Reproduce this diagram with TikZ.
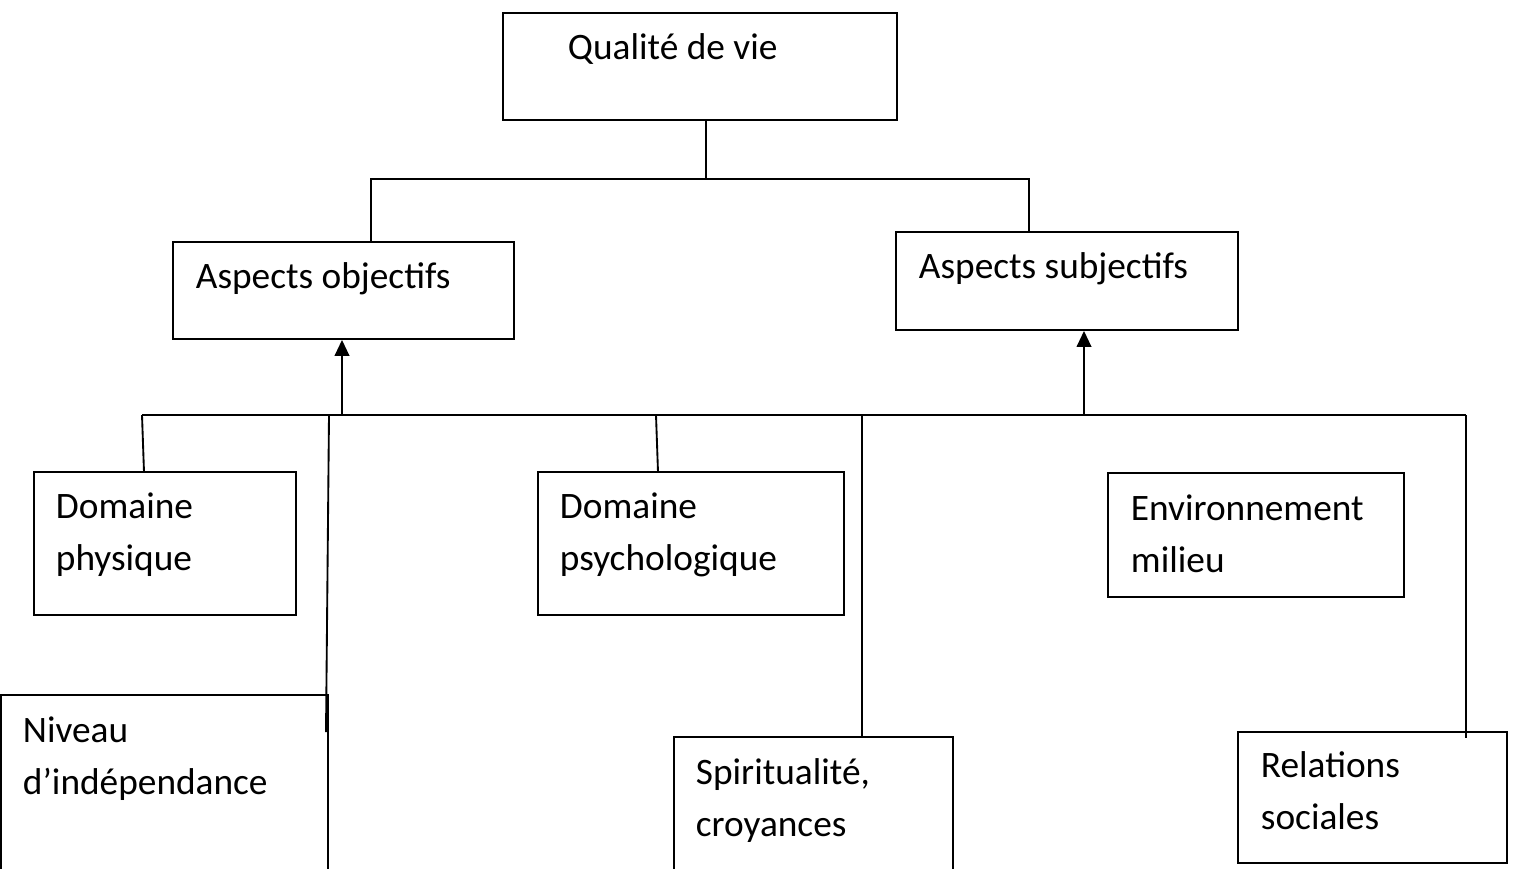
\documentclass[tikz,border=0pt]{standalone}
\usepackage{fontspec}
\setmainfont{Carlito}
\usetikzlibrary{arrows.meta,fit}
\begin{document}
\begin{tikzpicture}[x=0.75pt,y=-0.75pt,
  line width=1.4pt,
  box/.style={draw=black, line width=1.4pt, rectangle, inner sep=0pt},
  txt/.style={anchor=base west, inner sep=0pt, align=left,
    font=\fontsize{28pt}{39pt}\selectfont},
  uparrow/.style={-{Triangle[length=12pt,width=11pt]}}]
\useasboundingbox (0,0) rectangle (1513,868);
\clip (0,0) rectangle (1513,868);
% boxes
\node[box, fit={(503,13)(897,120)}] (qual) {};
\node[box, fit={(173,242)(514,339)}] (obj) {};
\node[box, fit={(896,232)(1238,330)}] (subj) {};
\node[box, fit={(34,472)(296,615)}] (phys) {};
\node[box, fit={(538,472)(844,615)}] (psy) {};
\node[box, fit={(1108,473)(1404,597)}] (env) {};
\node[box, fit={(1,695)(328,920)}] (niv) {};
\node[box, fit={(674,737)(953,920)}] (spi) {};
\node[box, fit={(1238,732)(1507,863)}] (rel) {};
% texts (multi-line nodes are anchored on the baseline of their last line)
\node[txt] (tqual) at (567,59) {Qualité de vie};
\node[txt] (tobj) at (195,288) {Aspects objectifs};
\node[txt] (tsubj) at (918,278) {Aspects subjectifs};
\node[txt] (tphys) at (55,570) {Domaine\\physique};
\node[txt] (tpsy) at (559,570) {Domaine\\psychologique};
\node[txt] (tenv) at (1130,572) {Environnement\\milieu};
\node[txt] (tniv) at (22,794) {Niveau\\d’indépendance};
\node[txt] (tspi) at (695,836) {Spiritualité,\\croyances};
\node[txt] (trel) at (1260,829) {Relations\\sociales};
% top connectors
\coordinate (tj) at (706,179);
\coordinate (tjL) at (371,179);
\coordinate (tjR) at (1029,179);
\draw (tj |- qual.south) -- (tj);
\draw (tjL |- obj.north) -- (tjL) -- (tjR) -- (tjR |- subj.north);
% bus
\coordinate (busL) at (142,415);
\coordinate (busR) at (1466,415);
\draw (busL) -- (busR);
\coordinate (a1) at (342,415);
\coordinate (a2) at (1084,415);
\draw[uparrow] (a1) -- (a1 |- obj.south);
\draw[uparrow] (a2) -- (a2 |- subj.south);
% drops
\coordinate (d1e) at (144,472);
\draw (busL) -- (d1e);
\coordinate (d2) at (329,415);
\coordinate (d2e) at (326,732);
\draw (d2) -- (d2e);
\coordinate (d3) at (656,415);
\coordinate (d3e) at (658,472);
\draw (d3) -- (d3e);
\coordinate (d4) at (862,415);
\draw (d4) -- (d4 |- spi.north);
\coordinate (d5e) at (1466,738);
\draw (busR) -- (d5e);
\end{tikzpicture}
\end{document}
